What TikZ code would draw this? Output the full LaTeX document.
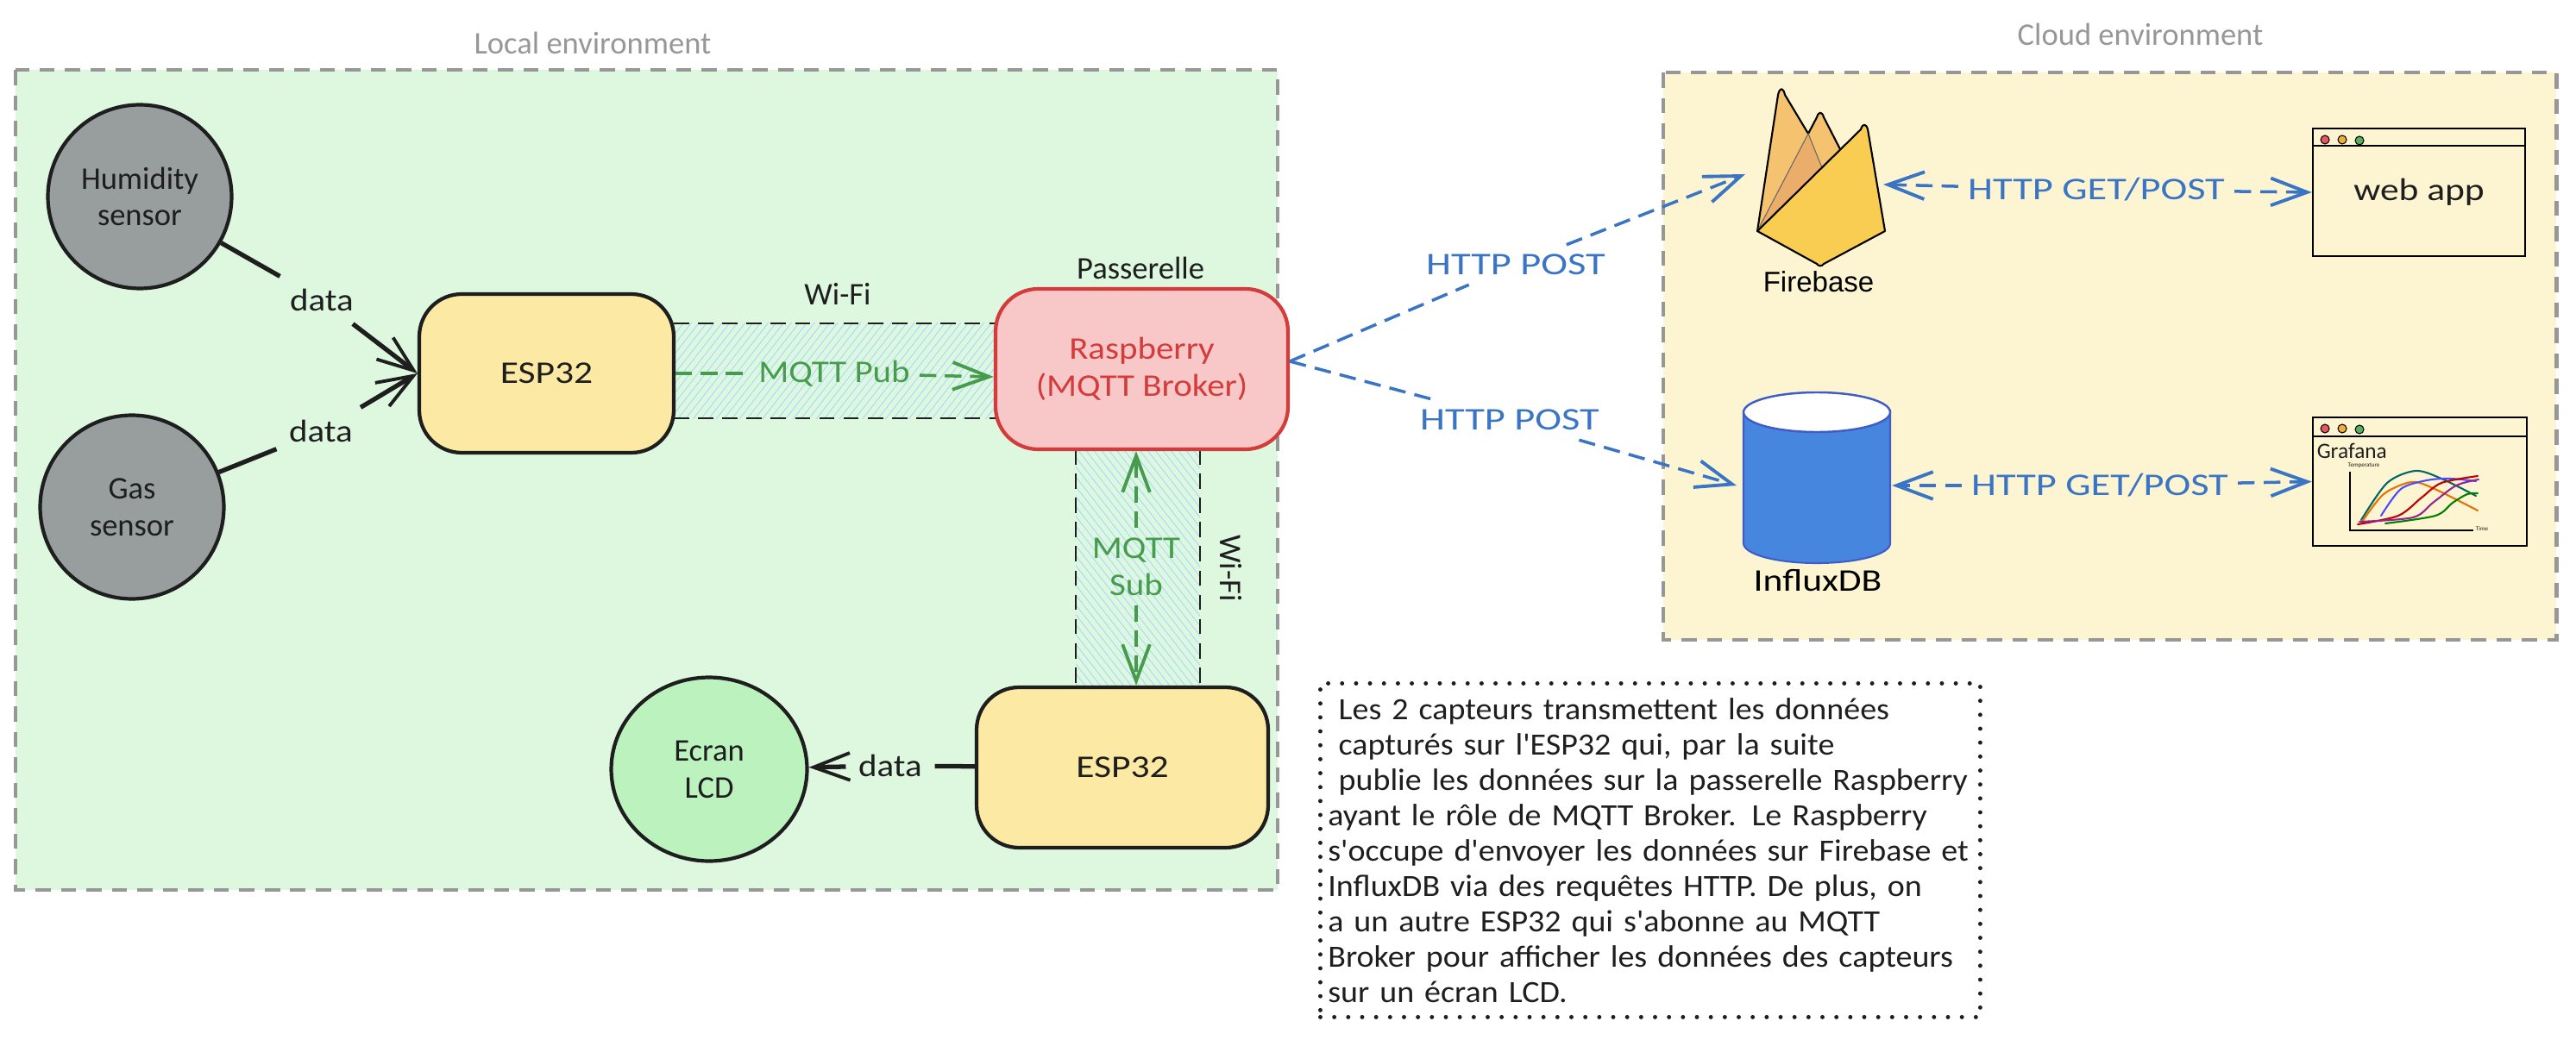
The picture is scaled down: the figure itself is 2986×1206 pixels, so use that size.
\documentclass[tikz,border=0pt]{standalone}
\usepackage{fontspec}
\setmainfont{Carlito}
\newfontfamily\arialf{Liberation Sans}
\newfontfamily\handnote[FakeStretch=1.06]{Carlito}
\newfontfamily\handmid[FakeStretch=1.12]{Carlito}
\newfontfamily\handwide[FakeStretch=1.19]{Carlito}
\newfontfamily\handhttp[FakeStretch=1.27]{Carlito}
\usetikzlibrary{arrows.meta,patterns.meta,positioning,shapes.geometric}
\definecolor{inkk}{HTML}{1E1E1E}
\definecolor{localbg}{HTML}{DEF7DF}
\definecolor{cloudbg}{HTML}{FDF5D2}
\definecolor{frameg}{HTML}{979797}
\definecolor{sensorg}{HTML}{989D9D}
\definecolor{espy}{HTML}{FCE9A3}
\definecolor{raspf}{HTML}{F8C8C8}
\definecolor{raspd}{HTML}{D43C3C}
\definecolor{mqttg}{HTML}{469C4C}
\definecolor{httpb}{HTML}{3A74C4}
\definecolor{hatchb}{HTML}{A5D8FF}
\definecolor{lcdg}{HTML}{BCF2BE}
\definecolor{dbb}{HTML}{4686DE}
\definecolor{dbd}{HTML}{3F5CC8}
\definecolor{fba}{HTML}{F5C26F}
\definecolor{fbb}{HTML}{EBAE6A}
\definecolor{fbc}{HTML}{F8CD52}
\definecolor{dotr}{HTML}{E8565E}
\definecolor{doty}{HTML}{F0AE38}
\definecolor{dotg}{HTML}{55B25C}
\tikzset{
  handtext/.style={font=\fontsize{10.4}{12.2}\selectfont, text=inkk, align=center},
  frame/.style={draw=frameg, line width=1.4pt, dash pattern=on 5pt off 3.4pt},
  envlabel/.style={handtext, text=frameg},
  sensor/.style={circle, draw=inkk, fill=sensorg, line width=1.2pt, handtext, inner sep=0pt, minimum size={213*0.2845pt}},
  espbox/.style={rectangle, rounded corners=14pt, draw=inkk, fill=espy, line width=1.2pt, handtext, font=\handwide\fontsize{10.4}{12.2}\selectfont, inner sep=0pt},
  link/.style={draw=inkk, line width=1.5pt, -{Straight Barb[length=12pt,width=9pt,line width=1.1pt]}},
  linkplain/.style={draw=inkk, line width=1.5pt},
  lbl/.style={handtext, inner sep=1.5pt},
  datalbl/.style={handtext, font=\handmid\fontsize{10.4}{12.2}\selectfont, inner sep=4pt},
  band/.style={draw=inkk, line width=.7pt, dash pattern=on 5pt off 3pt},
  mqtt/.style={draw=mqttg, line width=1pt, dash pattern=on 5.5pt off 2.8pt},
  mqtttip/.style={-{Straight Barb[length=12pt,width=9pt,line width=1.1pt]}},
  mqtttext/.style={handtext, font=\handmid\fontsize{10.4}{12.2}\selectfont, text=mqttg, inner sep=3pt},
  http/.style={draw=httpb, line width=1pt, dash pattern=on 5.5pt off 3pt},
  httptext/.style={handtext, font=\handhttp\fontsize{10.4}{12.2}\selectfont, text=httpb, inner sep=3pt},
  win/.style={rectangle, draw=black, line width=.7pt, inner sep=0pt, handtext},
  wdot/.style={draw=black, line width=.3pt},
  curve/.style={line width=.6pt, line cap=round},
}
\begin{document}
\begin{tikzpicture}[x=0.1mm,y=-0.1mm]
\useasboundingbox (0,0) rectangle (2986,1206);
% environments
\draw[frame, fill=localbg] (18,81) rectangle (1481,1032);
\draw[frame, fill=cloudbg] (1928,84) rectangle (2963,742);
\node[envlabel] (loclab) at (687,50) {Local environment};
\node[envlabel] (cloudlab) at (2481,40) {Cloud environment};
% Wi-Fi bands
\fill[pattern={Lines[angle=52,distance=2pt,line width=.25pt]}, pattern color=hatchb] (781,375) rectangle (1154,485);
\draw[band] (781,375) -- (1154,375);
\draw[band] (781,485) -- (1154,485);
\fill[pattern={Lines[angle=-52,distance=2pt,line width=.25pt]}, pattern color=hatchb] (1247,521) rectangle (1391,796);
\draw[band] (1247,521) -- (1247,796);
\draw[band] (1391,521) -- (1391,796);
% nodes
\node[sensor] (hum) at (162,228) {Humidity\\sensor};
\node[sensor] (gas) at (153,588) {Gas\\sensor};
\node[espbox, minimum width={295*0.2845pt}, minimum height={184*0.2845pt}] (esp1) at (633.5,433) {ESP32};
\node[espbox, minimum width={338*0.2845pt}, minimum height={186*0.2845pt}] (esp2) at (1301,890) {ESP32};
\node[rectangle, rounded corners=14pt, draw=raspd, fill=raspf, line width=1.2pt, handtext, font=\handmid\fontsize{10.4}{12.2}\selectfont, text=raspd, inner sep=0pt, minimum width={339*0.2845pt}, minimum height={186*0.2845pt}] (rasp) at (1323.5,428) {Raspberry\\(MQTT Broker)};
\node[ellipse, draw=inkk, fill=lcdg, line width=1.2pt, handtext, inner sep=0pt, minimum width={227*0.2845pt}, minimum height={213*0.2845pt}] (lcd) at (822,892) {Ecran\\LCD};
\node[lbl] (pass) at (1322,311) {Passerelle};
\node[lbl] (wifia) at (971,341) {Wi-Fi};
\node[lbl, rotate=-90] (wifib) at (1427,659) {Wi-Fi};
% data connectors
\node[datalbl] (d1) at (373,348) {data};
\node[datalbl] (d2) at (372,500) {data};
\node[datalbl] (d3) at (1032,888) {data};
\draw[linkplain] (hum) -- (d1);
\draw[link] (d1) -- (esp1.west);
\draw[linkplain] (gas) -- (d2);
\draw[link] (d2) -- (esp1.west);
\draw[linkplain] (esp2) -- (d3);
\draw[link] (d3) -- (lcd);
% MQTT connectors
\node[mqtttext] (pub) at (967,433) {MQTT Pub};
\node[mqtttext] (sub) at (1317,657) {MQTT\\Sub};
\draw[mqtt] (esp1.east) -- (pub);
\draw[mqtt, mqtttip] (pub) -- (rasp.183);
\draw[mqtt, mqtttip] (sub) -- (rasp.south -| sub);
\draw[mqtt, mqtttip] (sub) -- (esp2.north -| sub);
% Firebase logo
\draw[fill=fba, draw=black, line width=.6pt, line join=round] (2037,268) -- (2061,110) .. controls (2063,101) and (2067,101) .. (2069,110) -- (2096,155) -- (2106,136) .. controls (2108,129) and (2112,129) .. (2114,136) -- (2134,175) -- cycle;
\fill[fbb] (2037,268) -- (2096,155) -- (2117,207) -- cycle;
\draw[draw=black!60, line width=.3pt] (2037,268) -- (2096,155) -- (2117,207);
\draw[fill=fbc, draw=black, line width=.6pt, line join=round] (2037,268) -- (2157,150) .. controls (2159,143) and (2163,143) .. (2165,150) -- (2185,268) -- (2114,306) .. controls (2112,309) and (2108,309) .. (2106,306) -- cycle;
\node[font=\arialf\fontsize{9.4}{11}\selectfont, text=black, inner sep=0pt] (fblab) at (2108,327) {Firebase};
\coordinate (fbin) at (2023,202);
\coordinate (fbout) at (2183,214);
% web app
\node[win, font=\handwide\fontsize{10.4}{12.2}\selectfont, minimum width={246*0.2845pt}, minimum height={148*0.2845pt}] (webapp) at (2804,223) {web app};
\draw[line width=.8pt] (webapp.north west |- 0,169) -- (webapp.north east |- 0,169);
\draw[wdot, fill=dotr] (2695,162) circle[radius=5];
\draw[wdot, fill=doty] (2715,162) circle[radius=5];
\draw[wdot, fill=dotg] (2735,163) circle[radius=5];
% InfluxDB cylinder
\draw[fill=dbb, draw=dbd, line width=.6pt] (2021,478) -- (2021,630) .. controls (2021,643) and (2060,653) .. (2106,653) .. controls (2152,653) and (2191,643) .. (2191,630) -- (2191,478) -- cycle;
\draw[fill=white, draw=dbd, line width=.7pt] (2106,478) ellipse[x radius=85, y radius=23];
\node[handtext, font=\handwide\fontsize{10.4}{12.2}\selectfont, text=black, inner sep=0pt] (influxlab) at (2107,673) {InfluxDB};
\coordinate (dbin) at (2013,563);
\coordinate (dbout) at (2193,563);
% Grafana
\node[win, minimum width={248*0.2845pt}, minimum height={149*0.2845pt}] (graf) at (2805,558.5) {};
\draw[line width=.8pt] (graf.north west |- 0,506) -- (graf.north east |- 0,506);
\draw[wdot, fill=dotr] (2695,497) circle[radius=5];
\draw[wdot, fill=doty] (2715,497) circle[radius=5];
\draw[wdot, fill=dotg] (2735,498) circle[radius=5];
\node[anchor=west, inner sep=0pt, font=\fontsize{7.2}{8}\selectfont, text=inkk] (graflab) at (2685,523) {Grafana};
\node[inner sep=0pt, font=\fontsize{2}{2.4}\selectfont, text=inkk] (ty) at (2740,540) {Temperature};
\node[inner sep=0pt, font=\fontsize{2}{2.4}\selectfont, text=inkk] (tx) at (2877,613) {Time};
\draw[line width=.5pt] (2724,547) -- (2724,615) -- (2867,615);
\draw[curve, draw=teal!80!black] plot[smooth] coordinates {(2737,603) (2767,560) (2800,546) (2830,555) (2870,575)};
\draw[curve, draw=orange!90!black] plot[smooth] coordinates {(2738,605) (2763,573) (2795,559) (2820,566) (2872,592)};
\draw[curve, draw=blue!70!white] plot[smooth] coordinates {(2760,598) (2783,567) (2813,557) (2840,555) (2870,558)};
\draw[curve, draw=red!75!black] plot[smooth] coordinates {(2733,608) (2780,598) (2807,577) (2830,560) (2872,552)};
\draw[curve, draw=violet!85!white] plot[smooth] coordinates {(2735,605) (2797,600) (2820,583) (2847,563) (2873,556)};
\draw[curve, draw=green!50!black] plot[smooth] coordinates {(2765,607) (2823,598) (2843,583) (2860,573) (2872,572)};
% HTTP connectors
\node[httptext] (post1) at (1757,307) {HTTP POST};
\node[httptext] (post2) at (1750,487) {HTTP POST};
\node[httptext] (gp1) at (2430,220) {HTTP GET/POST};
\node[httptext] (gp2) at (2434,563) {HTTP GET/POST};
\draw[http] (rasp.3.4) -- (post1);
\draw[http, mqtttip] (post1) -- (fbin);
\draw[http] (rasp.3.4) -- (post2);
\draw[http, mqtttip] (post2) -- (dbin);
\draw[http, mqtttip] (gp1) -- (fbout);
\draw[http, mqtttip] (gp1) -- (webapp.west);
\draw[http, mqtttip] (gp2) -- (dbout);
\draw[http, mqtttip] (gp2) -- (graf.west);
% note
\node[draw=inkk, line width=1.4pt, dash pattern=on 0pt off 4.6pt, line cap=round, rectangle, anchor=north west, minimum width={765*0.2845pt}, minimum height={387*0.2845pt}, text width=217.6pt, inner sep=0pt, handtext, align=left, font=\handnote\fontsize{10.2}{11.66}\selectfont] (note) at (1528,790) {\hspace*{6pt}Les 2 capteurs transmettent les données\\\hspace*{6pt}capturés sur l'ESP32 qui, par la suite\\\hspace*{6pt}publie les données sur la passerelle Raspberry\\\hspace*{2.5pt}ayant le rôle de MQTT Broker. Le Raspberry\\\hspace*{2.5pt}s'occupe d'envoyer les données sur Firebase et\\\hspace*{2.5pt}InfluxDB via des requêtes HTTP. De plus, on\\\hspace*{2.5pt}a un autre ESP32 qui s'abonne au MQTT\\\hspace*{2.5pt}Broker pour afficher les données des capteurs\\\hspace*{2.5pt}sur un écran LCD.};
\end{tikzpicture}
\end{document}
